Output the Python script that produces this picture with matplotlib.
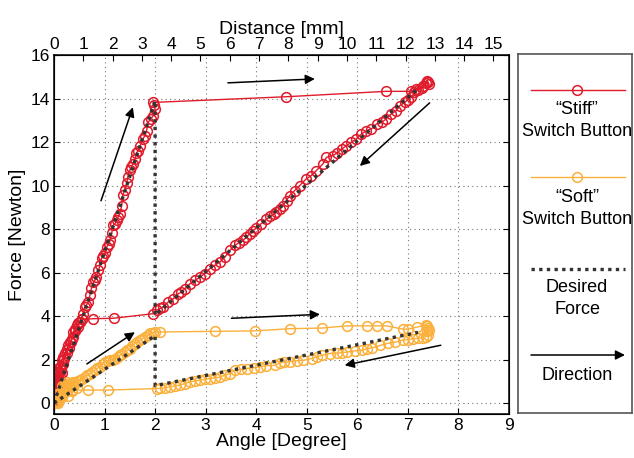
import matplotlib
matplotlib.use("Agg")
import matplotlib.pyplot as plt

plt.rcParams['font.family'] = ['Liberation Sans', 'DejaVu Sans']

# ---------------- data ----------------
stiff_x = [0.02, 0.0, 0.05, 0.07, 0.085, 0.10, 0.12, 0.15, 0.18, 0.22, 0.25,
           0.28, 0.32, 0.35, 0.38, 0.42, 0.45, 0.48, 0.52, 0.55, 0.58, 0.61,
           0.64, 0.68, 0.71, 0.74, 0.78, 0.81, 0.84, 0.88, 0.91, 0.94, 0.97,
           1.01, 1.04, 1.08, 1.11, 1.14, 1.17, 1.21, 1.24, 1.27, 1.30, 1.34,
           1.36, 1.40, 1.44, 1.46, 1.50, 1.53, 1.56, 1.60, 1.63, 1.67, 1.70,
           1.76, 1.80, 1.83, 1.86, 1.91, 1.96, 2.00, 1.98, 1.96,
           4.58, 6.57, 7.07, 7.17, 7.30, 7.40, 7.38, 7.42, 7.36,
           7.27, 7.20, 7.13, 7.07, 7.00, 6.94, 6.84, 6.77, 6.67, 6.57, 6.48,
           6.38, 6.28, 6.18, 6.08, 5.98, 5.88, 5.78, 5.69, 5.60, 5.52, 5.39,
           5.32, 5.19, 5.09, 4.99, 4.86, 4.76, 4.66, 4.60, 4.53, 4.47, 4.40,
           4.35, 4.28, 4.20, 4.10, 4.00, 3.93, 3.87, 3.80, 3.74, 3.66, 3.58,
           3.48, 3.38, 3.28, 3.18, 3.08, 2.98, 2.89, 2.79, 2.69, 2.59, 2.52,
           2.46, 2.36, 2.26, 2.16, 2.10, 2.03, 1.96,
           1.18, 0.78, 0.55,
           0.52, 0.47, 0.42, 0.38, 0.33, 0.30, 0.25, 0.20, 0.17, 0.14, 0.12,
           0.10, 0.07, 0.05, 0.02, 0.00, 0.03, 0.08, 0.06, 0.10, 0.13, 0.15,
           0.04, 0.00, 0.09, 0.11, 0.01, 0.05, 0.14, 0.02]
stiff_f = [0.14, 0.40, 0.75, 0.95, 1.20, 1.45, 1.67, 1.97, 2.10, 2.29, 2.48,
           2.66, 2.80, 2.97, 3.27, 3.40, 3.58, 3.66, 3.75, 3.88, 4.11, 4.42,
           4.50, 4.65, 4.95, 5.27, 5.56, 5.65, 5.80, 6.10, 6.33, 6.65, 6.75,
           6.88, 7.17, 7.30, 7.48, 7.80, 8.17, 8.25, 8.40, 8.55, 8.70, 9.08,
           9.55, 9.80, 10.10, 10.40, 10.70, 10.85, 11.00, 11.20, 11.50, 11.60,
           11.80, 12.15, 12.30, 12.50, 12.90, 13.05, 13.20, 13.50, 13.70, 13.82,
           14.08, 14.33, 14.33, 14.43, 14.59, 14.74, 14.80, 14.65, 14.70,
           14.50, 14.40, 14.28, 14.05, 13.95, 13.82, 13.67, 13.44, 13.29,
           13.06, 12.90, 12.83, 12.60, 12.52, 12.37, 12.14, 11.99, 11.82,
           11.68, 11.50, 11.38, 11.30, 11.00, 10.69, 10.46, 10.31, 10.00,
           9.77, 9.54, 9.31, 9.08, 8.93, 8.80, 8.70, 8.58, 8.45, 8.25, 8.05,
           7.92, 7.78, 7.62, 7.48, 7.38, 7.25, 7.02, 6.71, 6.48, 6.33, 6.18,
           5.95, 5.79, 5.64, 5.49, 5.26, 5.10, 5.03, 4.80, 4.65, 4.42, 4.35,
           4.27, 4.11,
           3.90, 3.88, 3.85,
           3.75, 3.50, 3.30, 3.05, 2.80, 2.55, 2.30, 2.05, 1.80, 1.50, 1.20,
           0.90, 0.60, 0.30, 0.10, 0.25, 0.50, 1.00, 1.30, 1.10, 0.80, 1.40,
           0.70, 0.15, 0.40, 0.55, 0.05, 1.55, 1.70, 0.90]

soft_x = [0.00, 0.085, 0.12, 0.18, 0.22, 0.27, 0.32, 0.37, 0.42, 0.47, 0.51,
          0.56, 0.61, 0.66, 0.71, 0.76, 0.81, 0.86, 0.91, 0.96, 1.01, 1.06,
          1.11, 1.16, 1.21, 1.26, 1.30, 1.35, 1.40, 1.45, 1.50, 1.55, 1.60,
          1.65, 1.70, 1.75, 1.80, 1.85, 1.90, 1.95, 2.00, 2.09,
          3.18, 3.97, 4.66, 5.30, 5.79, 6.19, 6.38, 6.58, 6.90, 7.00, 7.19,
          7.35, 7.40, 7.38, 7.40, 7.35, 7.42, 7.38,
          7.30, 7.20, 7.10, 7.00, 6.90, 6.75, 6.60, 6.45, 6.30, 6.20, 6.10,
          5.95, 5.80, 5.70, 5.60, 5.45, 5.30, 5.20, 5.10, 4.93, 4.80, 4.66,
          4.55, 4.47, 4.37, 4.20, 4.07, 3.95, 3.81, 3.70, 3.58, 3.48, 3.38,
          3.28, 3.18, 3.08, 2.98, 2.89, 2.79, 2.69, 2.59, 2.49, 2.39, 2.29,
          2.20, 2.10, 2.03,
          1.07, 0.68, 0.35,
          0.25, 0.20, 0.15, 0.10, 0.30, 0.40, 0.18, 0.08, 0.12, 0.05, 0.22,
          0.28, 0.02, 0.15, 0.35, 0.25, 0.45, 0.06]
soft_f = [0.00, 0.00, 0.29, 0.60, 0.83, 0.88, 0.90, 0.95, 0.98, 1.00, 1.05,
          1.12, 1.20, 1.28, 1.36, 1.44, 1.51, 1.60, 1.67, 1.80, 1.90, 1.93,
          1.97, 2.00, 2.05, 2.12, 2.20, 2.28, 2.35, 2.42, 2.51, 2.62, 2.74,
          2.80, 2.89, 2.96, 3.04, 3.12, 3.20, 3.24, 3.27, 3.27,
          3.30, 3.32, 3.42, 3.45, 3.55, 3.55, 3.55, 3.55, 3.40, 3.40, 3.50,
          3.60, 3.45, 3.30, 3.15, 3.05, 3.35, 3.55,
          3.00, 2.98, 2.95, 2.92, 2.90, 2.80, 2.75, 2.65, 2.55, 2.50, 2.43,
          2.40, 2.35, 2.32, 2.30, 2.28, 2.20, 2.12, 2.05, 1.97, 1.95, 1.90,
          1.88, 1.85, 1.74, 1.72, 1.67, 1.63, 1.59, 1.55, 1.51, 1.36, 1.28,
          1.20, 1.16, 1.13, 1.09, 1.05, 1.02, 0.98, 0.90, 0.83, 0.79, 0.75,
          0.71, 0.68, 0.67,
          0.60, 0.60, 0.60,
          0.55, 0.45, 0.30, 0.20, 0.75, 0.85, 0.70, 0.10, 0.45, 0.05, 0.65,
          0.35, 0.02, 0.80, 0.55, 0.95, 0.70, 0.40]

desired_stiff_x = [0.0, 2.0, 2.0, 7.2]
desired_stiff_f = [0.0, 13.9, 4.05, 14.45]
desired_soft_x = [0.0, 2.0, 2.0, 7.2]
desired_soft_f = [0.0, 3.1, 0.8, 3.25]

# direction arrows: (x_start, f_start, x_end, f_end)
arrows = [(0.93, 9.3, 1.56, 13.6),
          (3.44, 14.72, 5.16, 14.9),
          (7.43, 13.8, 6.05, 10.9),
          (0.65, 1.8, 1.60, 3.26),
          (3.51, 3.9, 5.26, 4.08),
          (7.65, 2.66, 5.75, 1.74)]

x_ticks = list(range(0, 10))
y_ticks = list(range(0, 17, 2))
top_ticks = list(range(0, 16))
mm_per_degree = 15.53 / 9.0

RED = '#e01b2b'
ORANGE = '#fbb03b'
DOT = '#333333'

# ---------------- figure ----------------
W, H = 634, 458
fig = plt.figure(figsize=(W / 100, H / 100), dpi=100)
ax = fig.add_axes([54 / W, (H - 414) / H, (509 - 54) / W, (414 - 55) / H])

ax.plot(stiff_x, stiff_f, '-', color=RED, lw=1.0, marker='o', ms=7,
        mfc='none', mec=RED, mew=1.1, zorder=3)
ax.plot(soft_x, soft_f, '-', color=ORANGE, lw=1.0, marker='o', ms=7,
        mfc='none', mec=ORANGE, mew=1.1, zorder=4)
for xs, fs in [(desired_stiff_x, desired_stiff_f), (desired_soft_x, desired_soft_f)]:
    ax.plot(xs, fs, color=DOT, lw=2.4, linestyle=(0, (1, 1.3)),
            dash_capstyle='butt', zorder=5)

for (x0, y0, x1, y1) in arrows:
    ax.annotate('', xy=(x1, y1), xytext=(x0, y0),
                arrowprops=dict(arrowstyle='-|>', color='black', lw=1.1,
                                mutation_scale=14, shrinkA=0, shrinkB=0),
                zorder=6)

ax.set_xlim(0, 9)
ax.set_ylim(-0.5, 16)
ax.set_xticks(x_ticks)
ax.set_yticks(y_ticks)
ax.grid(True, linestyle=(0, (1, 3)), color='#777777', lw=0.8)
ax.tick_params(direction='in', length=4, width=0.8, labelsize=12.5,
               right=True, top=False, pad=3)
for s in ax.spines.values():
    s.set_linewidth(1.1)
ax.set_xlabel('Angle [Degree]', fontsize=14, labelpad=0)
ax.set_ylabel('Force [Newton]', fontsize=14, labelpad=3)

ax2 = ax.twiny()
ax2.set_xlim(0, 9 * mm_per_degree)
ax2.set_xticks(top_ticks)
ax2.tick_params(direction='in', length=4, width=0.8, labelsize=12.5, pad=2)
ax2.set_xlabel('Distance [mm]', fontsize=14, labelpad=2)

# ---------------- legend box ----------------
lg = fig.add_axes([518 / W, (H - 413) / H, (632 - 518) / W, (413 - 54) / H])
lg.set_xlim(518, 632)
lg.set_ylim(413, 54)
lg.set_xticks([])
lg.set_yticks([])
for s in lg.spines.values():
    s.set_color('#555555')
    s.set_linewidth(1.2)

LFS = 13
lg.plot([531, 625], [90, 90], color=RED, lw=1.0)
lg.plot([577], [90], 'o', ms=7, mfc='none', mec=RED, mew=1.1)
lg.text(577, 109, '\u201cStiff\u201d', ha='center', va='center', fontsize=LFS)
lg.text(577, 132, 'Switch Button', ha='center', va='center', fontsize=LFS)

lg.plot([531, 625], [177, 177], color=ORANGE, lw=1.0)
lg.plot([577], [177], 'o', ms=7, mfc='none', mec=ORANGE, mew=1.1)
lg.text(577, 197, '\u201cSoft\u201d', ha='center', va='center', fontsize=LFS)
lg.text(577, 219, 'Switch Button', ha='center', va='center', fontsize=LFS)

lg.plot([531, 625], [269, 269], color=DOT, lw=2.4, linestyle=(0, (1, 1.3)),
        dash_capstyle='butt')
lg.text(577, 288, 'Desired', ha='center', va='center', fontsize=LFS)
lg.text(577, 309, 'Force', ha='center', va='center', fontsize=LFS)

lg.annotate('', xy=(625, 355), xytext=(531, 355),
            arrowprops=dict(arrowstyle='-|>', color='black', lw=1.1,
                            mutation_scale=14, shrinkA=0, shrinkB=0))
lg.text(577, 376, 'Direction', ha='center', va='center', fontsize=LFS)

fig.savefig('out.png', dpi=100)
